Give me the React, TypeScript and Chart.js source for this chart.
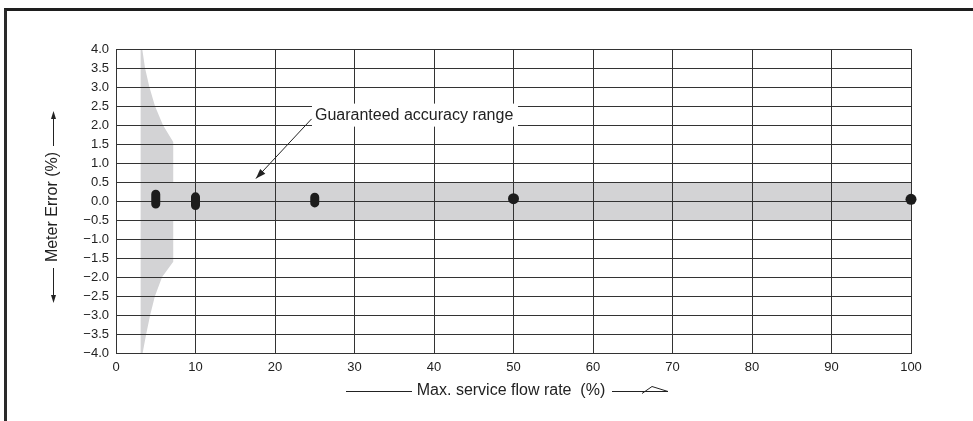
import React, { useEffect, useRef } from "react";
import { Chart, registerables } from "chart.js";

Chart.register(...registerables);

// ---- axes ----
const X_MIN = 0;
const X_MAX = 100;
const X_STEP = 10;
const Y_MIN = -4;
const Y_MAX = 4;
const Y_STEP = 0.5;

const X_TITLE = "Max. service flow rate  (%)";
const Y_TITLE = "Meter Error (%)";
const ANNOT_TEXT = "Guaranteed accuracy range";

// ---- shaded regions ----
const funnelLeftX = 3.1;
const funnelUpperX = [3.1, 3.3, 3.65, 4.2, 4.9, 5.9, 7.2];
const funnelUpperY = [4.0, 4.0, 3.5, 3.0, 2.5, 2.0, 1.55];
const funnelLowerX = [7.2, 5.8, 4.9, 4.3, 3.8, 3.35, 3.1];
const funnelLowerY = [-1.6, -2.0, -2.5, -3.0, -3.5, -4.0, -4.0];
const bandTop = 0.5;
const bandBottom = -0.5;
const bandEndX = 100;

// ---- measured points ----
const capsuleX = [5, 10, 25];
const capsuleTop = [0.18, 0.11, 0.1];
const capsuleBottom = [-0.08, -0.12, -0.05];
const dotX = [50, 100];
const dotY = [0.06, 0.045];

// ---- annotation (data coordinates) ----
const annotBoxX = 24.65;
const annotTextY = 2.26;
const arrowFrom = [24.6, 2.16];
const arrowTo = [17.6, 0.59];

const FONT = '"Liberation Sans", Arial, Helvetica, sans-serif';
const INK = "#222";

function arrowHead(ctx: CanvasRenderingContext2D, x1: number, y1: number, x2: number, y2: number, len: number, half: number) {
  const a = Math.atan2(y2 - y1, x2 - x1);
  ctx.beginPath();
  ctx.moveTo(x2, y2);
  ctx.lineTo(x2 - len * Math.cos(a) + half * Math.sin(a), y2 - len * Math.sin(a) - half * Math.cos(a));
  ctx.lineTo(x2 - len * Math.cos(a) - half * Math.sin(a), y2 - len * Math.sin(a) + half * Math.cos(a));
  ctx.closePath();
  ctx.fill();
}

const decorPlugin = {
  id: "decor",
  afterDraw(chart: any) {
    const ctx: CanvasRenderingContext2D = chart.ctx;
    const { left, right, top, bottom } = chart.chartArea;
    const xs = chart.scales.x;
    const ys = chart.scales.y;
    ctx.save();
    ctx.fillStyle = INK;
    ctx.strokeStyle = INK;
    ctx.lineWidth = 1;
    ctx.font = `16px ${FONT}`;

    // Y title
    const ycx = left - 63;
    const ycy = (top + bottom) / 2 + 6;
    ctx.save();
    ctx.translate(ycx, ycy);
    ctx.rotate(-Math.PI / 2);
    ctx.textAlign = "center";
    ctx.textBaseline = "middle";
    ctx.fillText(Y_TITLE, 0, 0);
    ctx.restore();
    ctx.beginPath();
    ctx.moveTo(Math.round(ycx) + 0.5, ycy - 61);
    ctx.lineTo(Math.round(ycx) + 0.5, ycy - 90);
    ctx.moveTo(Math.round(ycx) + 0.5, ycy + 61);
    ctx.lineTo(Math.round(ycx) + 0.5, ycy + 90);
    ctx.stroke();
    arrowHead(ctx, Math.round(ycx) + 0.5, ycy - 80, Math.round(ycx) + 0.5, ycy - 96, 8, 2.5);
    arrowHead(ctx, Math.round(ycx) + 0.5, ycy + 80, Math.round(ycx) + 0.5, ycy + 96, 8, 2.5);

    // X title
    const xcx = (left + right) / 2 - 2.5;
    const xcy = bottom + 38;
    ctx.textAlign = "center";
    ctx.textBaseline = "middle";
    ctx.fillText(X_TITLE, xcx, xcy);
    const ly = Math.round(xcy) + 0.5;
    ctx.beginPath();
    ctx.moveTo(xcx - 165, ly);
    ctx.lineTo(xcx - 99, ly);
    ctx.moveTo(xcx + 101, ly);
    ctx.lineTo(xcx + 157, ly);
    ctx.moveTo(xcx + 131, ly + 2);
    ctx.lineTo(xcx + 141, ly - 5);
    ctx.lineTo(xcx + 157, ly);
    ctx.stroke();

    // annotation
    const bx = xs.getPixelForValue(annotBoxX);
    const by = ys.getPixelForValue(annotTextY);
    ctx.fillStyle = "#fff";
    ctx.fillRect(bx, by - 11.5, 206, 23);
    ctx.fillStyle = INK;
    ctx.textAlign = "left";
    ctx.fillText(ANNOT_TEXT, bx + 3, by);
    const ax1 = xs.getPixelForValue(arrowFrom[0]);
    const ay1 = ys.getPixelForValue(arrowFrom[1]);
    const ax2 = xs.getPixelForValue(arrowTo[0]);
    const ay2 = ys.getPixelForValue(arrowTo[1]);
    ctx.beginPath();
    ctx.moveTo(ax1, ay1);
    ctx.lineTo(ax2, ay2);
    ctx.stroke();
    arrowHead(ctx, ax1, ay1, ax2, ay2, 10, 3.5);
    ctx.restore();
  },
};

function buildShape() {
  const pts: { x: number; y: number }[] = [];
  funnelUpperX.forEach((x, i) => pts.push({ x, y: funnelUpperY[i] }));
  pts.push({ x: funnelUpperX[funnelUpperX.length - 1], y: bandTop });
  pts.push({ x: bandEndX, y: bandTop });
  pts.push({ x: bandEndX, y: bandBottom });
  pts.push({ x: funnelLowerX[0], y: bandBottom });
  funnelLowerX.forEach((x, i) => pts.push({ x, y: funnelLowerY[i] }));
  pts.push({ x: funnelLeftX, y: funnelUpperY[0] });
  return pts;
}

export default function App() {
  const ref = useRef<HTMLCanvasElement | null>(null);

  useEffect(() => {
    if (!ref.current) return;
    const datasets: any[] = [
      {
        label: "accuracy",
        data: buildShape(),
        fill: "shape",
        backgroundColor: "#d3d3d5",
        borderColor: "rgba(0,0,0,0)",
        borderWidth: 0,
        pointRadius: 0,
        tension: 0,
        order: 10,
      },
    ];
    capsuleX.forEach((x, i) => {
      datasets.push({
        label: "cap" + i,
        data: [
          { x, y: capsuleTop[i] },
          { x, y: capsuleBottom[i] },
        ],
        borderColor: "#1c1c1c",
        borderWidth: 9,
        borderCapStyle: "round",
        pointRadius: 0,
        fill: false,
        clip: false,
      });
    });
    datasets.push({
      label: "dots",
      data: dotX.map((x, i) => ({ x, y: dotY[i] })),
      showLine: false,
      pointRadius: 5.5,
      pointBackgroundColor: "#1c1c1c",
      pointBorderWidth: 0,
      borderColor: "#1c1c1c",
      fill: false,
      clip: false,
    });

    const chart = new Chart(ref.current, {
      type: "line",
      data: { datasets },
      options: {
        animation: false,
        responsive: false,
        events: [],
        layout: { padding: { left: 0, top: 49, right: 62, bottom: 28 } },
        plugins: {
          legend: { display: false },
          tooltip: { enabled: false },
          filler: { drawTime: "beforeDraw" },
        } as any,
        scales: {
          x: {
            type: "linear",
            min: X_MIN,
            max: X_MAX,
            afterFit: (s: any) => {
              s.height = 40;
            },
            ticks: {
              stepSize: X_STEP,
              padding: 7,
              color: INK,
              font: { family: FONT, size: 13 },
              maxRotation: 0,
              callback: (v: any) => String(v),
            },
            grid: { color: "#333", lineWidth: 1, drawTicks: false },
            border: { display: true, color: "#333", width: 1 },
          },
          y: {
            type: "linear",
            min: Y_MIN,
            max: Y_MAX,
            afterFit: (s: any) => {
              s.width = 116;
            },
            ticks: {
              stepSize: Y_STEP,
              padding: 7,
              color: INK,
              font: { family: FONT, size: 13 },
              callback: (v: any) => {
                const n = Number(v);
                const s = Math.abs(n).toFixed(1);
                return n < -1e-9 ? "\u2212" + s : s;
              },
            },
            grid: { color: "#333", lineWidth: 1, drawTicks: false },
            border: { display: true, color: "#333", width: 1 },
          },
        },
      } as any,
      plugins: [decorPlugin],
    });
    return () => chart.destroy();
  }, []);

  return (
    <div style={{ position: "fixed", left: 0, top: 0, width: 973, height: 421, background: "#fff", overflow: "hidden" }}>
      <canvas ref={ref} width={973} height={421} style={{ position: "absolute", left: 0, top: 0, width: 973, height: 421 }} />
      <div
        style={{
          position: "absolute",
          left: 4,
          top: 8,
          width: 980,
          height: 430,
          borderTop: "3px solid #1e1e1e",
          borderLeft: "3px solid #2a2a2a",
          pointerEvents: "none",
        }}
      />
    </div>
  );
}
